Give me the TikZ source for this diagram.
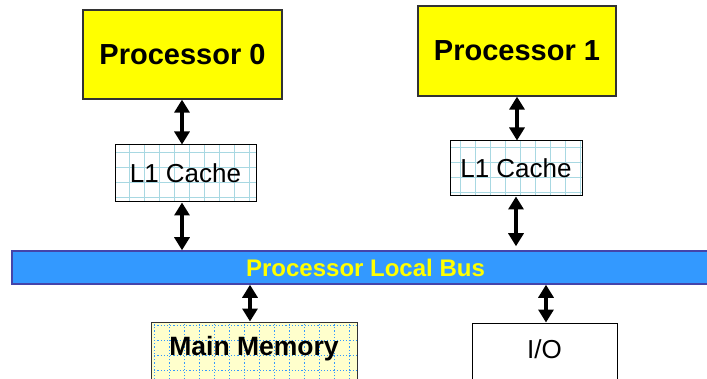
\documentclass[tikz,border=0pt]{standalone}
\usepackage{fontspec}
\setmainfont{Liberation Sans}
\usetikzlibrary{arrows.meta}
\definecolor{cpuyellow}{HTML}{FFFF00}
\definecolor{cpuedge}{HTML}{333333}
\definecolor{busblue}{HTML}{3399FF}
\definecolor{busedge}{HTML}{4444AA}
\definecolor{cachegrid}{HTML}{A8D8E2}
\definecolor{memfill}{HTML}{FFFFCC}
\definecolor{memgrid}{HTML}{3399FF}
\tikzset{
  cpubox/.style={draw=cpuedge, line width=1.3pt, fill=cpuyellow, inner sep=0pt,
    font=\fontsize{29}{34}\selectfont\bfseries},
  cachebox/.style={draw=black, line width=1pt, fill=white, inner sep=0pt,
    font=\fontsize{26}{30}\selectfont,
    path picture={\draw[cachegrid, line width=1.2pt]
      (path picture bounding box.south west) grid[step=15pt]
      (path picture bounding box.north east);}},
  membox/.style={draw=black!80, line width=1pt, fill=memfill, inner sep=0pt,
    font=\fontsize{26.5}{30}\selectfont\bfseries,
    path picture={\draw[memgrid, line width=1.2pt, dotted]
      (path picture bounding box.south west) grid[step=15pt]
      (path picture bounding box.north east);}},
  iobox/.style={draw=black, line width=1pt, fill=white, inner sep=0pt,
    font=\fontsize{26}{30}\selectfont},
  busbar/.style={draw=busedge, line width=1.5pt, fill=busblue, inner sep=0pt,
    text=cpuyellow, font=\fontsize{24}{28}\selectfont\bfseries},
  link/.style={line width=3.8pt,
    {Triangle[width=15pt,length=13pt]}-{Triangle[width=15pt,length=13pt]}},
}
\begin{document}
\begin{tikzpicture}[x=1pt,y=1pt]
  \useasboundingbox (0,0) rectangle (707,378);
  \clip (0,0) rectangle (707,378);
  \fill[white] (0,0) rectangle (707,378);

  % processors
  \node[cpubox, minimum width=199pt, minimum height=89pt] (p0) at (182.5,323.5) {Processor 0};
  \node[cpubox, minimum width=198pt, minimum height=90pt] (p1) at (517,327) {Processor 1};

  % private caches
  \node[cachebox, minimum width=141pt, minimum height=57pt] (c0) at (185.5,204.5) {L1 Cache};
  \node[cachebox, minimum width=132pt, minimum height=55pt] (c1) at (516,209.5) {L1 Cache};

  % shared bus
  \node[busbar, minimum width=707pt, minimum height=33pt] (bus) at (365.5,110.5) {Processor Local Bus};

  % memory and I/O (boxes run past the lower edge; text sits near the top)
  \node[membox, minimum width=206pt, minimum height=80pt, text depth=32pt] (mem) at (254,16) {Main Memory};
  \node[iobox, minimum width=145pt, minimum height=80pt, text depth=28pt] (io) at (544.5,15) {I/O};

  % connections
  \draw[link] ([xshift=-0.5pt]p0.south) -- ([xshift=-0.5pt]p0.south |- c0.north);
  \draw[link] ([xshift=-3.5pt]c0.south) -- ([xshift=-3.5pt]c0.south |- bus.north);
  \draw[link] (p1.south) -- (p1.south |- c1.north);
  \draw[link] (c1.south) -- ([yshift=4pt]c1.south |- bus.north);
  \draw[link] ([xshift=-4pt]mem.north |- bus.south) -- ([xshift=-4pt]mem.north);
  \draw[link] ([xshift=1.5pt]io.north |- bus.south) -- ([xshift=1.5pt]io.north);
\end{tikzpicture}
\end{document}
